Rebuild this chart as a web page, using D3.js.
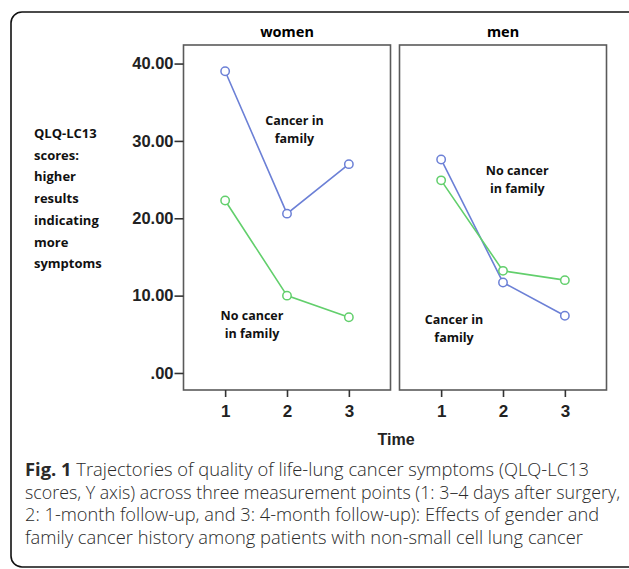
<!DOCTYPE html>
<html>
<head>
<meta charset="utf-8">
<script src="https://cdn.jsdelivr.net/npm/d3@7"></script>
<style>
  body { margin: 0; background: #fff; }
  svg { display: block; }
</style>
</head>
<body>
<svg id="fig" width="629" height="569"></svg>
<script>
// data
const times = [1, 2, 3]
const panels = ["women", "men"]
const womenFamily = [39.0, 20.6, 27.0]
const womenNoFamily = [22.3, 10.0, 7.2]
const menFamily = [27.6, 11.7, 7.4]
const menNoFamily = [24.9, 13.2, 12.0]
const yTicks = [0, 10, 20, 30, 40]
const yLabel = ["QLQ-LC13", "scores:", "higher", "results", "indicating", "more", "symptoms"]
const caption = [
  ["Fig. 1", " Trajectories of quality of life-lung cancer symptoms (QLQ-LC13"],
  ["", "scores, Y axis) across three measurement points (1: 3\u20134 days after surgery,"],
  ["", "2: 1-month follow-up, and 3: 4-month follow-up): Effects of gender and"],
  ["", "family cancer history among patients with non-small cell lung cancer"]
]
const notes = {
  women: [{ lines: ["Cancer in", "family"], t: 2.12, v: 32.0 }, { lines: ["No cancer", "in family"], t: 1.434, v: 6.8 }],
  men: [{ lines: ["No cancer", "in family"], t: 2.23, v: 25.6 }, { lines: ["Cancer in", "family"], t: 1.208, v: 6.3 }]
}

const blue = "#6c80d6"
const green = "#62cf6c"

const svg = d3.select("#fig")

// rounded frame around the whole figure
svg.append("rect")
  .attr("x", 11).attr("y", 12)
  .attr("width", 630).attr("height", 555)
  .attr("rx", 11)
  .attr("fill", "none").attr("stroke", "#111").attr("stroke-width", 1.6)

const plotTop = 45, plotBottom = 390
const y = d3.scaleLinear().domain([-2.2, 42.4]).range([plotBottom, plotTop])

const panelX = { women: [183.5, 390.5], men: [399.5, 606.5] }
const series = {
  women: [{ vals: womenFamily, color: blue }, { vals: womenNoFamily, color: green }],
  men: [{ vals: menFamily, color: blue }, { vals: menNoFamily, color: green }]
}

panels.forEach((p, i) => {
  const x = d3.scaleLinear().domain([0.327, 3.673]).range(panelX[p])
  const g = svg.append("g")

  g.append("rect")
    .attr("x", panelX[p][0]).attr("y", plotTop)
    .attr("width", panelX[p][1] - panelX[p][0]).attr("height", plotBottom - plotTop)
    .attr("fill", "none").attr("stroke", "#5a5a5a").attr("stroke-width", 1.6)

  g.append("text")
    .attr("x", (panelX[p][0] + panelX[p][1]) / 2).attr("y", 37)
    .attr("text-anchor", "middle")
    .style("font-family", "'Noto Sans', sans-serif").style("font-weight", "bold").style("font-size", "14.5px")
    .text(p)

  const xAxis = g.append("g")
    .attr("transform", `translate(0,${plotBottom})`)
    .call(d3.axisBottom(x).tickValues(times).tickFormat(d3.format("d")).tickSize(7).tickSizeOuter(0))
  xAxis.select(".domain").remove()
  xAxis.selectAll("line").attr("stroke", "#333").attr("stroke-width", 1.6)
  xAxis.selectAll("text")
    .attr("y", 15)
    .style("font-family", "'Liberation Sans', Arial, sans-serif")
    .style("font-weight", "bold").style("font-size", "17px").attr("fill", "#222")

  if (i == 0) {
    const yAxis = g.append("g")
      .attr("transform", `translate(${panelX[p][0]},0)`)
      .call(d3.axisLeft(y).tickValues(yTicks).tickFormat(d => d == 0 ? ".00" : d3.format(".2f")(d)).tickSize(9).tickSizeOuter(0))
    yAxis.select(".domain").remove()
    yAxis.selectAll("line").attr("stroke", "#333").attr("stroke-width", 1.6)
    yAxis.selectAll("text")
      .attr("x", -10)
      .style("font-family", "'Liberation Sans', Arial, sans-serif")
      .style("font-weight", "bold").style("font-size", "16.5px").attr("fill", "#222")
  }

  const line = d3.line().x((d, k) => x(times[k])).y(d => y(d))
  series[p].forEach(s => {
    g.append("path").attr("d", line(s.vals))
      .attr("fill", "none").attr("stroke", s.color).attr("stroke-width", 1.6)
    g.selectAll(null).data(s.vals).enter().append("circle")
      .attr("cx", (d, k) => x(times[k])).attr("cy", d => y(d))
      .attr("r", 4.2)
      .attr("fill", "#fff").attr("stroke", s.color).attr("stroke-width", 1.5)
  })

  notes[p].forEach(n => {
    const t = g.append("text")
      .attr("x", x(n.t)).attr("y", y(n.v))
      .attr("text-anchor", "middle")
      .style("font-family", "'Open Sans', 'Noto Sans', sans-serif")
      .style("font-weight", "bold").style("font-size", "12.5px").attr("fill", "#111")
    n.lines.forEach((l, k) => t.append("tspan").attr("x", x(n.t)).attr("dy", k ? 18 : 0).text(l))
  })
})

// y label text on the left
const yl = svg.append("text")
  .attr("x", 34).attr("y", 138)
  .style("font-family", "'Open Sans', 'Noto Sans', sans-serif")
  .style("font-weight", "bold").style("font-size", "13px").attr("fill", "#111")
yLabel.forEach((l, k) => yl.append("tspan").attr("x", 34).attr("dy", k ? 21.7 : 0).text(l))

svg.append("text")
  .attr("x", 396).attr("y", 445)
  .attr("text-anchor", "middle")
  .style("font-family", "'Liberation Sans', Arial, sans-serif")
  .style("font-weight", "bold").style("font-size", "16px").attr("fill", "#222")
  .text("Time")

// caption
const capWidths = [564, 595, 574, 558]
caption.forEach((c, k) => {
  const t = svg.append("text")
    .attr("x", 25).attr("y", 476 + k * 22.6)
    .attr("textLength", capWidths[k]).attr("lengthAdjust", "spacingAndGlyphs")
    .style("font-family", "'Open Sans', 'Noto Sans', sans-serif")
    .style("font-size", "18px").style("font-weight", 300).attr("fill", "#2a2a2a")
  if (c[0]) t.append("tspan").style("font-weight", "bold").text(c[0])
  t.append("tspan").text(c[1])
})
</script>
</body>
</html>
